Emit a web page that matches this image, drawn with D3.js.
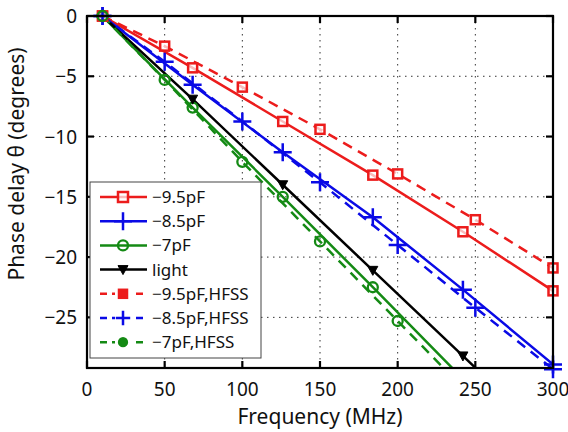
<!DOCTYPE html>
<html>
<head>
<meta charset="utf-8">
<script src="https://cdn.jsdelivr.net/npm/d3@7"></script>
<style>
  body { margin: 0; background: #fff; }
  svg { display: block; font-family: "Noto Sans", "Open Sans", sans-serif; }
</style>
</head>
<body>
<svg width="568" height="432"></svg>
<script>
const W = 568, H = 432;
const M = {left: 87, right: 553, top: 16, bottom: 368};

// frequencies (MHz)
const freqMeas = [10, 68, 126, 184, 242, 300];
const freqHfss = [10, 50, 100, 150, 200, 250, 300];

// phase delay (degrees)
const meas95 = [0, -4.3, -8.75, -13.2, -17.9, -22.8];
const meas85 = [0, -5.7, -11.3, -16.7, -22.7, -28.9];
const meas7 = [0, -7.6, -15.0, -22.5, -30.1];
const light = [0, -6.9, -14.0, -21.1, -28.2, -35.3];
const hfss95 = [0, -2.5, -5.9, -9.4, -13.1, -16.9, -20.9];
const hfss85 = [0, -3.8, -8.75, -13.8, -19.0, -24.2, -29.3];
const hfss7 = [0, -5.3, -12.1, -18.7, -25.3, -31.9];

const xTicks = [0, 50, 100, 150, 200, 250, 300];
const yTicks = [0, -5, -10, -15, -20, -25];

const RED = '#ec1c1c', BLUE = '#0a0ae6', GREEN = '#148a14', BLACK = '#000';

const series = [
  {name: '\u22129.5pF', xs: freqMeas, ys: meas95, color: RED, dash: null, marker: 'square'},
  {name: '\u22128.5pF', xs: freqMeas, ys: meas85, color: BLUE, dash: null, marker: 'plus'},
  {name: '\u22127pF', xs: freqMeas, ys: meas7, color: GREEN, dash: null, marker: 'circle'},
  {name: 'light', xs: freqMeas, ys: light, color: BLACK, dash: null, marker: 'tri'},
  {name: '\u22129.5pF,HFSS', xs: freqHfss, ys: hfss95, color: RED, dash: '10,7', marker: 'square'},
  {name: '\u22128.5pF,HFSS', xs: freqHfss, ys: hfss85, color: BLUE, dash: '10,7', marker: 'plus'},
  {name: '\u22127pF,HFSS', xs: freqHfss, ys: hfss7, color: GREEN, dash: '10,7', marker: 'circle'}
];

const svg = d3.select('svg');
const x = d3.scaleLinear().domain([0, 300]).range([M.left, M.right]);
const y = d3.scaleLinear().domain([-29.2, 0]).range([M.bottom, M.top]);

svg.append('defs').append('clipPath').attr('id', 'plot')
  .append('rect').attr('x', M.left).attr('y', M.top)
  .attr('width', M.right - M.left).attr('height', M.bottom - M.top);

// grid
const grid = svg.append('g').attr('stroke', '#333').attr('stroke-width', 1)
  .attr('stroke-dasharray', '1.5,4.5');
xTicks.slice(1, -1).forEach(t => {
  grid.append('line').attr('x1', x(t)).attr('x2', x(t)).attr('y1', M.top).attr('y2', M.bottom);
});
yTicks.slice(1).forEach(t => {
  grid.append('line').attr('x1', M.left).attr('x2', M.right).attr('y1', y(t)).attr('y2', y(t));
});

function drawMarker(g, kind, cx, cy, color, size, filled) {
  if (kind === 'square') {
    g.append('rect').attr('x', cx - size / 2).attr('y', cy - size / 2)
      .attr('width', size).attr('height', size)
      .attr('fill', filled ? color : '#fff').attr('fill-opacity', filled ? 1 : 0.7)
      .attr('stroke', color).attr('stroke-width', 2.5);
  } else if (kind === 'plus') {
    const s = size * 0.9;
    g.append('path').attr('d', `M${cx - s},${cy}H${cx + s}M${cx},${cy - s}V${cy + s}`)
      .attr('stroke', color).attr('stroke-width', 2.5).attr('fill', 'none');
  } else if (kind === 'circle') {
    g.append('circle').attr('cx', cx).attr('cy', cy).attr('r', size / 2)
      .attr('fill', filled ? color : 'none').attr('stroke', color).attr('stroke-width', 2.3);
  } else if (kind === 'tri') {
    const s = size / 2;
    g.append('path').attr('d', `M${cx - s},${cy - s * 0.8}L${cx + s},${cy - s * 0.8}L${cx},${cy + s}Z`)
      .attr('fill', color).attr('stroke', color).attr('stroke-width', 1);
  }
}

// series lines
const lineGen = d3.line().x(d => x(d[0])).y(d => y(d[1]));
const lines = svg.append('g').attr('clip-path', 'url(#plot)');
const marks = svg.append('g');
series.forEach(s => {
  const pts = s.ys.map((v, i) => [s.xs[i], v]);
  lines.append('path').datum(pts).attr('d', lineGen)
    .attr('fill', 'none').attr('stroke', s.color).attr('stroke-width', 2.5)
    .attr('stroke-dasharray', s.dash);
  pts.filter(p => p[1] >= -29.4).forEach(p => {
    drawMarker(marks, s.marker, x(p[0]), y(p[1]), s.color, s.marker === 'square' ? 9 : 10, false);
  });
});

// frame and ticks
const frame = svg.append('g').attr('stroke', '#000').attr('stroke-width', 2.2).attr('fill', 'none');
frame.append('rect').attr('x', M.left).attr('y', M.top)
  .attr('width', M.right - M.left).attr('height', M.bottom - M.top);
xTicks.forEach(t => {
  frame.append('line').attr('x1', x(t)).attr('x2', x(t)).attr('y1', M.bottom).attr('y2', M.bottom - 7);
  frame.append('line').attr('x1', x(t)).attr('x2', x(t)).attr('y1', M.top).attr('y2', M.top + 7);
});
yTicks.forEach(t => {
  frame.append('line').attr('x1', M.left).attr('x2', M.left + 7).attr('y1', y(t)).attr('y2', y(t));
  frame.append('line').attr('x1', M.right).attr('x2', M.right - 7).attr('y1', y(t)).attr('y2', y(t));
});

// tick labels
const fmt = v => v < 0 ? '\u2212' + Math.abs(v) : String(v);
svg.append('g').selectAll('text').data(xTicks).join('text')
  .attr('x', d => x(d)).attr('y', 396).attr('text-anchor', 'middle')
  .attr('font-size', 19).attr('fill', '#111').text(fmt);
svg.append('g').selectAll('text').data(yTicks).join('text')
  .attr('x', 77).attr('y', d => y(d) + 7).attr('text-anchor', 'end')
  .attr('font-size', 19).attr('fill', '#111').text(fmt);

// axis titles
svg.append('text').attr('x', 320).attr('y', 424).attr('text-anchor', 'middle')
  .attr('font-size', 21).attr('fill', '#111').text('Frequency (MHz)');
svg.append('text').attr('transform', 'translate(24,164) rotate(-90)')
  .attr('text-anchor', 'middle').attr('font-size', 21).attr('fill', '#111')
  .text('Phase delay \u03B8 (degrees)');

// legend
const leg = svg.append('g');
leg.append('rect').attr('x', 90).attr('y', 182).attr('width', 171).attr('height', 176)
  .attr('fill', '#fff').attr('stroke', '#444').attr('stroke-width', 1);
series.forEach((s, i) => {
  const cy = 197 + i * 24.2;
  leg.append('line').attr('x1', 100).attr('x2', 147).attr('y1', cy).attr('y2', cy)
    .attr('stroke', s.color).attr('stroke-width', 2.5).attr('stroke-dasharray', s.dash ? '7,5' : null);
  if (s.dash) {
    leg.append('rect').attr('x', 115).attr('y', cy - 5).attr('width', 16).attr('height', 10).attr('fill', '#fff');
  }
  drawMarker(leg, s.marker, 123, cy, s.color, s.dash ? 8 : 10, !!s.dash && s.marker !== 'plus');
  leg.append('text').attr('x', 152).attr('y', cy + 6).attr('font-size', 17).attr('fill', '#111').text(s.name);
});
</script>
</body>
</html>
